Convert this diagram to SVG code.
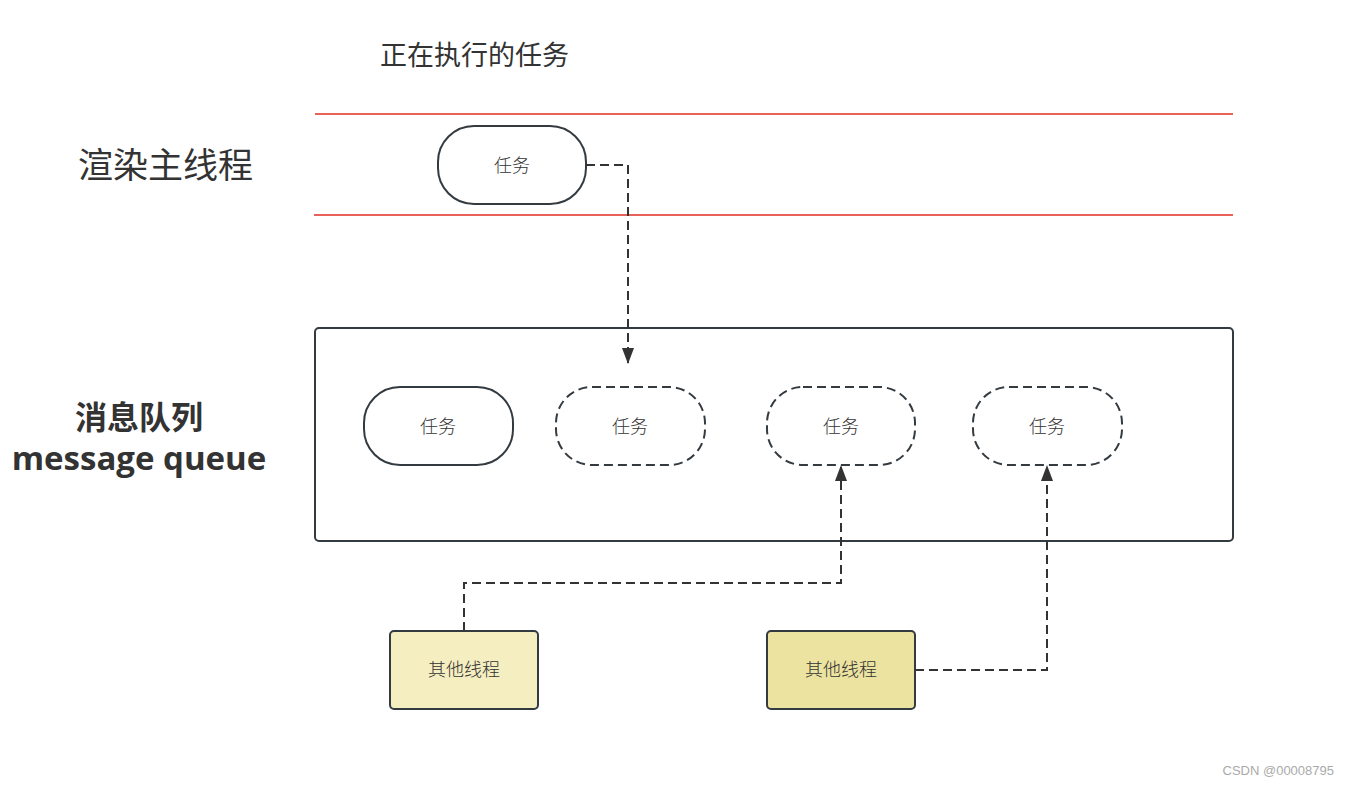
<svg xmlns="http://www.w3.org/2000/svg" width="1349" height="785" viewBox="0 0 1349 785">
<defs>
<style>
.t{font-family:"Liberation Sans","Noto Sans CJK SC",sans-serif;fill:#333;}
.task{fill:#fff;stroke:#333a40;stroke-width:2;}
.dash{stroke-dasharray:9 5;}
.conn{fill:none;stroke:#333;stroke-width:2;stroke-dasharray:9 5;}
.thr{stroke:#333a40;stroke-width:2;}
.lbl{font-size:18px;text-anchor:middle;font-weight:300;}
</style>
<marker id="arr" viewBox="0 0 16 12" refX="15" refY="6" markerWidth="16" markerHeight="12" markerUnits="userSpaceOnUse" orient="auto"><path d="M0,0 L16,6 L0,12 z" fill="#333"/></marker>
</defs>
<rect width="1349" height="785" fill="#fff"/>
<text class="t" x="380" y="65" font-size="27">正在执行的任务</text>
<text class="t" x="78" y="178" font-size="35">渲染主线程</text>
<text x="139" y="429" font-family="'Open Sans','Noto Sans CJK SC',sans-serif" fill="#333" font-size="32" font-weight="bold" text-anchor="middle">消息队列</text>
<text x="139" y="470" font-family="'Open Sans','Noto Sans CJK SC',sans-serif" fill="#333" font-size="33" font-weight="bold" text-anchor="middle">message queue</text>
<line x1="315" y1="114" x2="1233" y2="114" stroke="#e8625a" stroke-width="2"/>
<line x1="314" y1="215" x2="1233" y2="215" stroke="#e8625a" stroke-width="2"/>
<g id="queue"><rect x="315" y="328" width="918" height="213" rx="4" fill="#fff" stroke="#333a40" stroke-width="2"/></g>
<g id="t0"><rect class="task" x="438" y="126" width="148" height="78" rx="36"/><text class="t lbl" x="512" y="172">任务</text></g>
<g id="t1"><rect class="task" x="364" y="387" width="149" height="78" rx="36"/><text class="t lbl" x="438" y="433">任务</text></g>
<g id="t2"><rect class="task dash" x="556" y="387" width="149" height="78" rx="36"/><text class="t lbl" x="630" y="433">任务</text></g>
<g id="t3"><rect class="task dash" x="767" y="387" width="148" height="78" rx="36"/><text class="t lbl" x="841" y="433">任务</text></g>
<g id="t4"><rect class="task dash" x="973" y="387" width="149" height="78" rx="36"/><text class="t lbl" x="1047" y="433">任务</text></g>
<g id="th1"><rect class="thr" x="390" y="631" width="148" height="78" rx="4" fill="#f5eec0"/><text class="t lbl" x="464" y="676">其他线程</text></g>
<g id="th2"><rect class="thr" x="767" y="631" width="148" height="78" rx="4" fill="#ede3a0"/><text class="t lbl" x="841" y="676">其他线程</text></g>
<g id="connectors">
<path class="conn" d="M586,165 H628 V363" marker-end="url(#arr)"/>
<path class="conn" d="M464,631 V583 H841 V466" marker-end="url(#arr)"/>
<path class="conn" d="M915,670 H1047 V466" marker-end="url(#arr)"/>
</g>
<text x="1334" y="775" font-family="Liberation Sans, sans-serif" font-size="13" fill="#aaa" text-anchor="end">CSDN @00008795</text>
</svg>
